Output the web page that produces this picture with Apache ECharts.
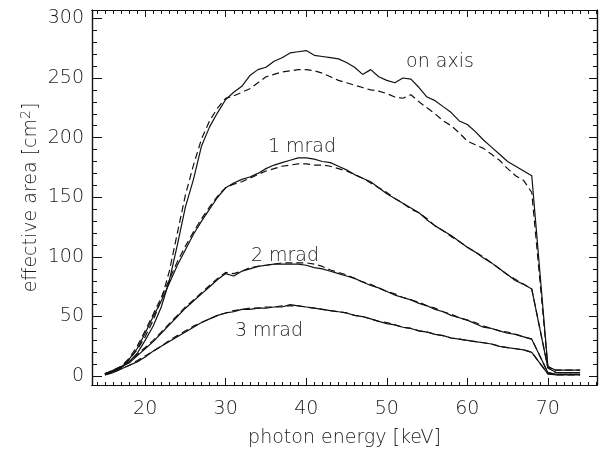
<!DOCTYPE html>
<html>
<head>
<meta charset="utf-8">
<script src="https://cdn.jsdelivr.net/npm/echarts@6/dist/echarts.min.js"></script>
<style>html,body{margin:0;padding:0;background:#fff}#c{width:600px;height:453px}</style>
</head>
<body>
<div id="c"></div>
<script>
const energies = [15,16,17,18,19,20,21,22,23,24,25,26,27,28,29,30,31,32,33,34,35,36,37,38,39,40,41,42,43,44,45,46,47,48,49,50,51,52,53,54,55,56,57,58,59,60,61,62,63,64,65,66,67,68,70,71,72,73,74];

const onAxisSolid = [2,4,7,12,19,30,42,58,80,110,142,165,193,209,221,232,238,243,252,257,259,264,267,271,272,273,269,268,267,266,263,259,253,257,251,248,246,250,249,242,234,231,226,221,214,211,205,198,192,186,180,176,172,168,8,5,5,5,5];
const onAxisDashed = [2,4,8,14,22,33,47,64,88,120,152,177,199,214,225,233,235,238,241,246,251,253,255,256,257,257,256,254,251,248,246,244,242,240,239,237,234,233,236,230,225,220,214,210,204,197,194,191,186,181,174,168,164,154,8,5,5,5,5];

const mrad1Solid = [2,4,7,14,23,36,50,63,78,93,106,119,130,140,150,158,162,165,167,170,174,177,179,181,183,183,182,180,179,176,173,169,166,163,158,153,149,145,141,137,131,126,122,118,113,108,104,99,95,90,85,80,77,73,7,3,3,3,3];
const mrad1Dashed = [2,4,8,15,25,38,52,66,81,96,109,121,132,142,151,158,161,163,166,169,172,174,176,177,178,178,177,177,176,174,172,169,166,162,158,154,149,145,140,137,132,126,122,117,113,108,104,100,95,90,85,81,77,73,7,3,3,3,3];

const mrad2Solid = [2,5,8,11,17,23,29,36,43,50,57,63,69,75,81,86,84,88,90,92,93,94,94,94,94,93,91,90,88,86,84,82,79,76,74,71,68,66,64,61,59,56,54,51,49,47,44,41,40,38,36,35,33,31,3,1.5,1.5,1.5,1.5];
const mrad2Dashed = [2,5,8,12,18,24,30,37,44,51,58,64,70,76,82,87,86,88,91,92,93,94,95,95,95,95,94,92,89,87,85,82,79,77,74,71,69,66,64,62,59,57,54,52,49,47,45,42,40,38,37,35,33,31,3,1.5,1.5,1.5,1.5];

const mrad3Solid = [1,3,6,9,12,16,21,25,29,33,37,41,45,48,51,53,54,56,56,57,57,58,58,60,59,58,57,56,55,54,53,51,50,48,46,44,43,41,40,38,37,35,34,32,31,30,29,28,27,25,24,23,22,20,2,1,1,1,1];
const mrad3Dashed = [1,3,6,9,13,17,21,25,30,34,38,42,45,48,51,53,55,56,57,57,58,58,59,59,59,58,57,56,55,54,53,51,50,48,46,45,43,41,40,38,37,35,34,32,31,30,29,28,27,25,24,23,22,20,2,1,1,1,1];

const xTickLabels = [20,30,40,50,60,70];
const xMinorTicks = []; for (let v = 14; v <= 76; v++) xMinorTicks.push(v);
const yTickLabels = [0,50,100,150,200,250,300];
const yMinorTicks = []; for (let v = 0; v <= 300; v += 10) yMinorTicks.push(v);

const curveLabels = [
  {text: 'on axis', x: 440, y: 62},
  {text: '1 mrad', x: 302, y: 147},
  {text: '2 mrad', x: 285, y: 256},
  {text: '3 mrad', x: 269, y: 331}
];

const FONT = 'DejaVu Sans';
const FW = 200;
const TXT = '#1a1a1a';
const XMIN = 13.4, XMAX = 76.1, YMIN = -7.4, YMAX = 307;

function pairs(ys){ return energies.map((e,i)=>[e, ys[i]]); }

function xAx(pos, ticks, len, labels){
  const a = {
    type:'value', position:pos, min:XMIN, max:XMAX,
    axisLine:{show:true, onZero:false, lineStyle:{color:'#111', width:1.2}},
    axisTick:{show:true, inside:true, length:len, customValues:ticks, lineStyle:{color:'#111', width:1}},
    axisLabel:{show:!!labels},
    splitLine:{show:false}
  };
  if (labels) {
    a.axisLabel = {show:true, customValues:labels, fontFamily:FONT, fontWeight:FW, fontSize:19, color:TXT, margin:15};
    a.name = 'photon energy [keV]';
    a.nameLocation = 'middle';
    a.nameGap = 44;
    a.nameMoveOverlap = false;
    a.nameTextStyle = {fontFamily:FONT, fontWeight:FW, fontSize:19, color:TXT};
  }
  return a;
}
function yAx(pos, ticks, len, labels){
  const a = {
    type:'value', position:pos, min:YMIN, max:YMAX,
    axisLine:{show:true, onZero:false, lineStyle:{color:'#111', width:1.2}},
    axisTick:{show:true, inside:true, length:len, customValues:ticks, lineStyle:{color:'#111', width:1}},
    axisLabel:{show:!!labels},
    splitLine:{show:false}
  };
  if (labels) {
    a.axisLabel = {show:true, customValues:labels, fontFamily:FONT, fontWeight:FW, fontSize:19, color:TXT, margin:8, padding:[0,0,10,0]};
    a.name = 'effective area [cm{sup|2}]';
    a.nameLocation = 'middle';
    a.nameGap = 49;
    a.nameMoveOverlap = false;
    a.nameRotate = 90;
    a.nameTextStyle = {fontFamily:FONT, fontWeight:FW, fontSize:19, color:TXT,
      rich:{sup:{fontFamily:FONT, fontWeight:FW, fontSize:14, color:TXT, verticalAlign:'bottom', padding:[0,0,10,0]}}};
  }
  return a;
}

function line(ys, dashed){
  return {
    type:'line', xAxisIndex:0, yAxisIndex:0, data:pairs(ys),
    showSymbol:false, symbol:'none', silent:true,
    lineStyle:{color:'#111', width:1.2, type: dashed ? [7,4] : 'solid'}
  };
}

const chart = echarts.init(document.getElementById('c'), null, {renderer:'canvas'});
chart.setOption({
  animation:false,
  backgroundColor:'#fff',
  grid:{left:92, right:3, top:10, bottom:61, containLabel:false},
  xAxis:[
    xAx('bottom', xTickLabels, 7, xTickLabels),
    xAx('bottom', xMinorTicks, 3, null),
    xAx('top', xTickLabels, 7, null),
    xAx('top', xMinorTicks, 4, null)
  ],
  yAxis:[
    yAx('left', yTickLabels, 10, yTickLabels),
    yAx('left', yMinorTicks, 5, null),
    yAx('right', yTickLabels, 8, null),
    yAx('right', yMinorTicks, 4, null)
  ],
  series:[
    line(onAxisSolid,false), line(onAxisDashed,true),
    line(mrad1Solid,false), line(mrad1Dashed,true),
    line(mrad2Solid,false), line(mrad2Dashed,true),
    line(mrad3Solid,false), line(mrad3Dashed,true)
  ],
  graphic: curveLabels.map(l => ({
    type:'text', x:l.x, y:l.y,
    style:{text:l.text, fontFamily:FONT, fontWeight:FW, fontSize:19, fill:TXT, align:'center', verticalAlign:'middle'}
  }))
});
</script>
</body>
</html>
